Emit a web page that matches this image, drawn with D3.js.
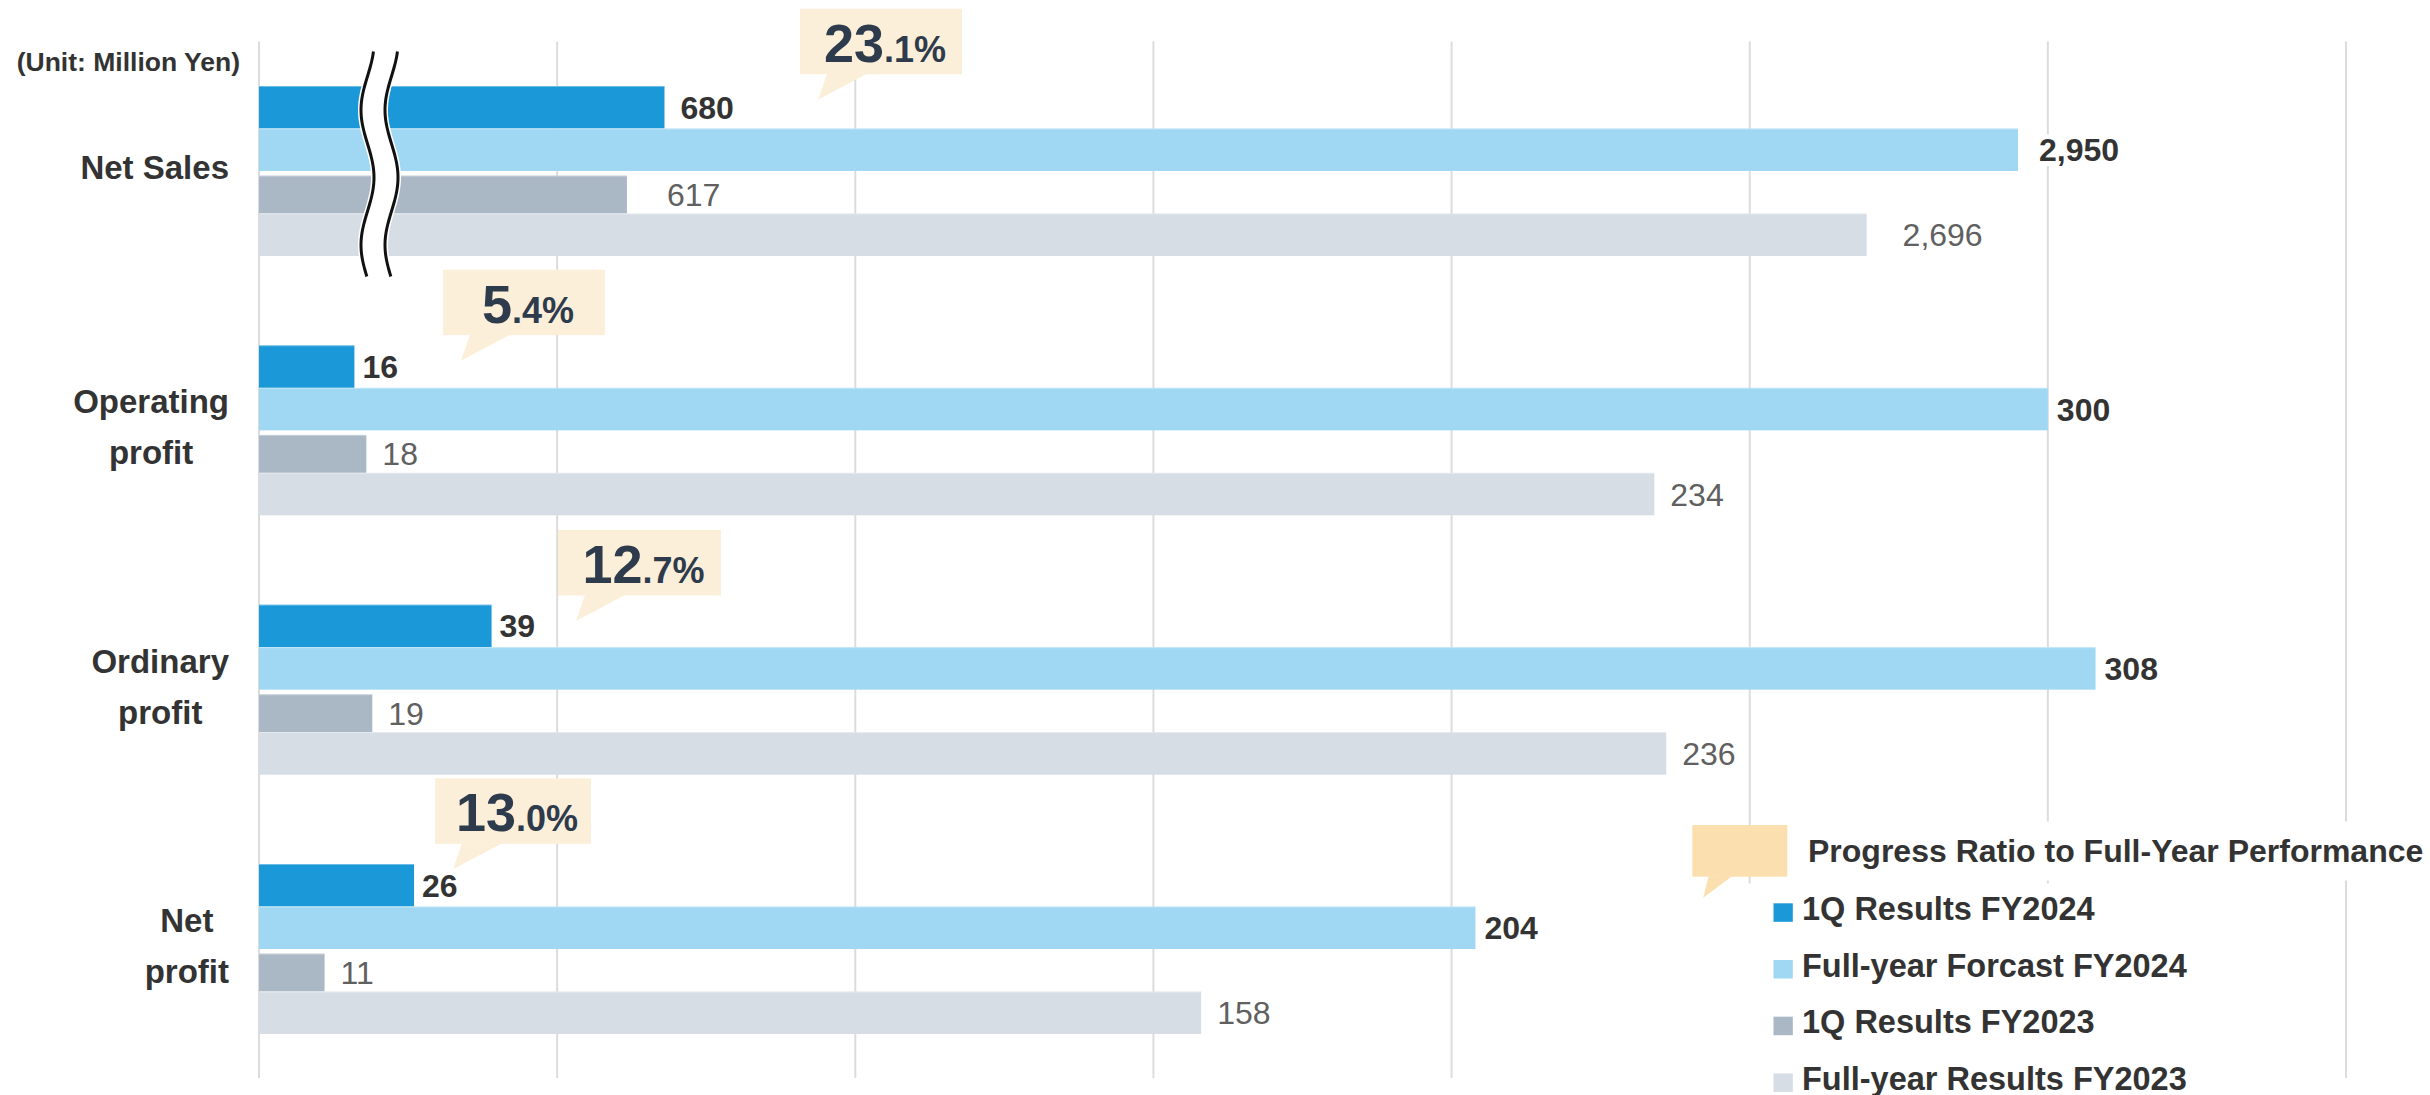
<!DOCTYPE html>
<html>
<head>
<meta charset="utf-8">
<script src="https://cdn.jsdelivr.net/npm/d3@7"></script>
<style>
  html, body { margin: 0; padding: 0; background: #fff; }
  svg { display: block; font-family: "Liberation Sans", Arial, sans-serif; }
</style>
</head>
<body>
<svg id="chart" width="2430" height="1095"></svg>
<script>
// ---- data ----
const categories = ["Net Sales", "Operating profit", "Ordinary profit", "Net profit"];
const categoryLines = [["Net Sales"], ["Operating", "profit"], ["Ordinary", "profit"], ["Net", "profit"]];
const seriesNames = ["1Q Results FY2024", "Full-year Forcast FY2024", "1Q Results FY2023", "Full-year Results FY2023"];
const q1FY2024 = [680, 16, 39, 26];
const forecastFY2024 = [2950, 300, 308, 204];
const q1FY2023 = [617, 18, 19, 11];
const fullYearFY2023 = [2696, 234, 236, 158];
const progressRatio = ["23.1", "5.4", "12.7", "13.0"];
const tickValues = [0, 50, 100, 150, 200, 250, 300, 350];
const unitLabel = "(Unit: Million Yen)";
const legendTitle = "Progress Ratio to Full-Year Performance";

// ---- styling ----
const seriesColors = ["#1a98d8", "#a0d8f3", "#aab7c5", "#d6dde4"];
const labelColors = ["#333333", "#333333", "#606060", "#606060"];
const labelWeights = ["bold", "bold", "normal", "normal"];
const labelGap = [8, 9, 16, 16];          // gap between bar end and value label
const salesLabelGap = [16, 21, 40, 36];   // Net Sales row (axis is broken there)
const calloutFill = "#fcefd9";
const legendCalloutFill = "#fbdfae";
const textDark = "#333333";
const calloutText = "#2d3b4c";

const seriesValues = [q1FY2024, forecastFY2024, q1FY2023, fullYearFY2023];

const svg = d3.select("#chart");

// ---- scales ----
const x = d3.scaleLinear().domain([0, 350]).range([259, 2346]);
// Net Sales row is drawn on a compressed (x10) scale behind the break marker
const xSales = d3.scaleLinear().domain([0, 3500]).range([259, 2346]);
const xFor = i => (i === 0 ? xSales : x);

const y = d3.scaleBand().domain(categories).range([86, 1034]).paddingInner(0.3445).paddingOuter(0);
const ySub = d3.scaleBand().domain(seriesNames).range([0, y.bandwidth()]).padding(0);
const subInset = [0, 0, 4.6, 0]; // 1Q FY2023 bar sits slightly apart from the forecast bar

// ---- gridlines ----
const grid = svg.append("g").attr("class", "grid");
grid.selectAll("line").data(tickValues).join("line")
  .attr("x1", d => x(d)).attr("x2", d => x(d))
  .attr("y1", 41.5).attr("y2", 1078)
  .attr("stroke", "#dcdcdc").attr("stroke-width", 2);

// ---- bars ----
const rows = categories.map((c, i) => ({
  cat: c, i,
  bars: seriesNames.map((s, j) => ({ s, j, v: seriesValues[j][i] }))
}));

const rowG = svg.append("g").selectAll("g.row").data(rows).join("g")
  .attr("class", "row")
  .attr("transform", d => `translate(0,${y(d.cat)})`);

rowG.each(function(row) {
  const g = d3.select(this);
  const sx = xFor(row.i);
  g.selectAll("rect.bar").data(row.bars).join("rect")
    .attr("class", "bar")
    .attr("x", sx(0))
    .attr("y", b => ySub(b.s) + subInset[b.j])
    .attr("width", b => sx(b.v) - sx(0))
    .attr("height", b => ySub.bandwidth() - subInset[b.j])
    .attr("fill", b => seriesColors[b.j]);
  // light top edge on each bar
  g.selectAll("line.edge").data(row.bars).join("line")
    .attr("class", "edge")
    .attr("x1", sx(0)).attr("x2", b => sx(b.v))
    .attr("y1", b => ySub(b.s) + subInset[b.j] + 0.5)
    .attr("y2", b => ySub(b.s) + subInset[b.j] + 0.5)
    .attr("stroke", "#ffffff").attr("stroke-opacity", 0.35).attr("stroke-width", 1);
});

// ---- value labels (white backing hides gridlines) ----
const fmt = d3.format(",");
rowG.each(function(row) {
  const g = d3.select(this);
  const sx = xFor(row.i);
  const gaps = row.i === 0 ? salesLabelGap : labelGap;
  row.bars.forEach(b => {
    const lg = g.append("g");
    const bg = lg.append("rect").attr("fill", "#fff");
    const t = lg.append("text")
      .attr("x", sx(b.v) + gaps[b.j])
      .attr("y", ySub(b.s) + subInset[b.j] / 2 + ySub.bandwidth() / 2 + 11.5)
      .attr("font-size", 32)
      .attr("font-weight", labelWeights[b.j])
      .attr("fill", labelColors[b.j])
      .text(fmt(b.v));
    const bb = t.node().getBBox();
    bg.attr("x", bb.x - 2).attr("y", bb.y + 2).attr("width", bb.width + 4).attr("height", bb.height - 4);
  });
});

// ---- category labels ----
const catG = svg.append("g");
categoryLines.forEach((lines, i) => {
  const cy = y(categories[i]) + y.bandwidth() / 2;
  const tmp = catG.append("g");
  const texts = lines.map((ln, k) => tmp.append("text")
    .attr("font-size", 33).attr("font-weight", "bold").attr("fill", textDark)
    .attr("text-anchor", "middle")
    .attr("y", cy + 8.5 + (k - (lines.length - 1) / 2) * 51)
    .text(ln));
  const maxW = d3.max(texts, t => t.node().getComputedTextLength());
  texts.forEach(t => t.attr("x", 229 - maxW / 2));
});

// unit label
svg.append("text")
  .attr("x", 240).attr("y", 71)
  .attr("text-anchor", "end")
  .attr("font-size", 26.5).attr("font-weight", "bold").attr("fill", textDark)
  .text(unitLabel);

// ---- axis break marker on the Net Sales row ----
(function drawBreak() {
  const top = 51.5, bottom = 276.5, cx = x(0) + 108.5, amp = 6.5, period = 135, y0 = 42.5, w = 24;
  const ys = d3.range(top, bottom + 0.01, 1.5);
  const left = ys.map(v => [cx + amp * Math.cos(2 * Math.PI * (v - y0) / period), v]);
  const right = left.map(([px, py]) => [px + w, py]);
  const line = d3.line().curve(d3.curveBasis);
  const bg = svg.append("g");
  bg.append("path")
    .attr("d", line(left.concat(right.slice().reverse())) + "Z")
    .attr("fill", "#fff");
  [left, right].forEach(pts => {
    bg.append("path").attr("d", line(pts)).attr("fill", "none")
      .attr("stroke", "#fff").attr("stroke-width", 6);
  });
  [left, right].forEach(pts => {
    bg.append("path").attr("d", line(pts)).attr("fill", "none")
      .attr("stroke", "#111").attr("stroke-width", 3);
  });
})();

// ---- progress-ratio callouts ----
const calloutLayout = [
  { x: 800, dy: -77.3, w: 162 },
  { x: 443, dy: -75.7, w: 162 },
  { x: 558, dy: -74.7, w: 163 },
  { x: 435, dy: -85.7, w: 156 }
];
const boxH = 65.5;
progressRatio.forEach((r, i) => {
  const L = calloutLayout[i];
  const bx = L.x, by = y(categories[i]) + L.dy;
  const g = svg.append("g");
  g.append("rect").attr("x", bx).attr("y", by).attr("width", L.w).attr("height", boxH).attr("fill", calloutFill);
  g.append("path")
    .attr("d", `M${bx + 27},${by + boxH - 0.5} L${bx + 67},${by + boxH - 0.5} L${bx + 18},${by + boxH + 25.5} Z`)
    .attr("fill", calloutFill);
  const parts = r.split(".");
  const t = g.append("text")
    .attr("x", bx + L.w / 2 + 4).attr("y", by + 53)
    .attr("text-anchor", "middle").attr("font-weight", "bold").attr("fill", calloutText);
  t.append("tspan").attr("font-size", 54).text(parts[0]);
  t.append("tspan").attr("font-size", 36).text("." + parts[1] + "%");
});

// ---- legend ----
const legend = svg.append("g");
legend.append("rect").attr("x", 1796).attr("y", 821.5).attr("width", 634).attr("height", 59).attr("fill", "#fff");
legend.append("rect").attr("x", 1742).attr("y", 883.5).attr("width", 470).attr("height", 212).attr("fill", "#fff");
legend.append("rect").attr("x", 1692.3).attr("y", 825).attr("width", 95).attr("height", 51.7).attr("fill", legendCalloutFill);
legend.append("path")
  .attr("d", "M1708.7,876.2 L1732,876.2 L1703.2,897.7 Z")
  .attr("fill", legendCalloutFill);
legend.append("text")
  .attr("x", 1808).attr("y", 861.7)
  .attr("font-size", 32).attr("font-weight", "bold").attr("fill", textDark)
  .text(legendTitle);
const items = legend.selectAll("g.item").data(seriesNames).join("g")
  .attr("class", "item")
  .attr("transform", (d, i) => `translate(0,${920 + i * 56.7})`);
items.append("rect")
  .attr("x", 1773.5).attr("y", -16.7).attr("width", 19.3).attr("height", 18.5)
  .attr("fill", (d, i) => seriesColors[i]);
items.append("text")
  .attr("x", 1802).attr("y", 0)
  .attr("font-size", 32.5).attr("font-weight", "bold").attr("fill", textDark)
  .text(d => d);
</script>
</body>
</html>
